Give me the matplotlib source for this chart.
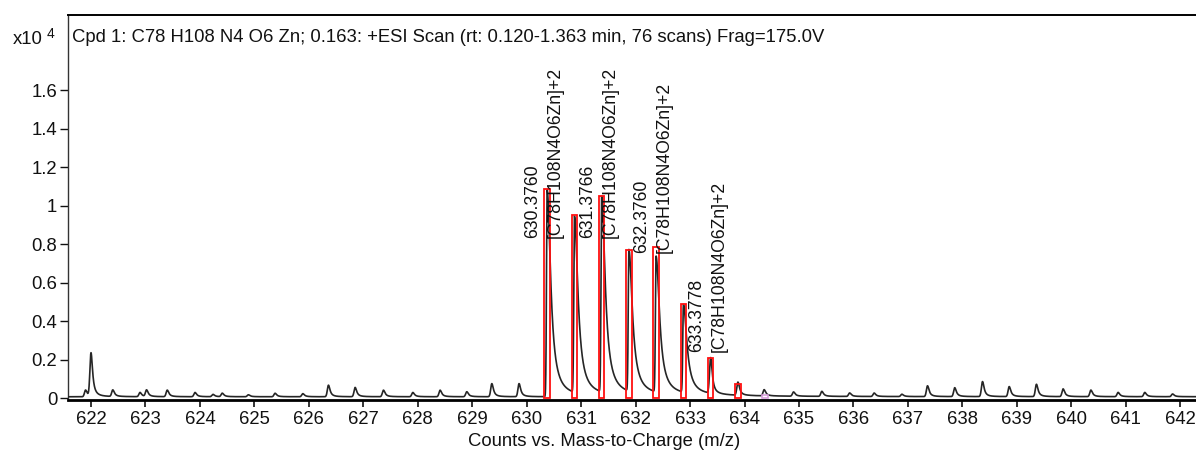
import numpy as np
import matplotlib
matplotlib.use("Agg")
import matplotlib.pyplot as plt
from matplotlib.patches import Rectangle

# scan peaks (m/z, counts in units of 1e4)
peak_mz = [621.90, 622.00, 622.40, 622.90, 623.02, 623.40, 623.91, 624.24, 624.41,
           624.89, 625.38, 625.89, 626.36, 626.85, 627.37, 627.91, 628.41, 628.90,
           629.36, 629.86,
           630.376, 630.877, 631.377, 631.877, 632.376, 632.878, 633.378, 633.879,
           634.36, 634.90, 635.42, 635.93, 636.38, 636.89, 637.36, 637.86, 638.37,
           638.86, 639.36, 639.85, 640.36, 640.86, 641.35, 641.86]
peak_counts = [0.035, 0.225, 0.034, 0.022, 0.034, 0.034, 0.022, 0.012, 0.018,
               0.010, 0.018, 0.016, 0.060, 0.048, 0.034, 0.022, 0.034, 0.026,
               0.068, 0.068,
               1.075, 0.915, 1.015, 0.735, 0.705, 0.455, 0.185, 0.068,
               0.032, 0.022, 0.026, 0.018, 0.018, 0.012, 0.056, 0.046, 0.078,
               0.052, 0.064, 0.040, 0.034, 0.022, 0.022, 0.014]

# predicted isotope pattern of [C78H108N4O6Zn]+2
iso_mz = [630.376, 630.876, 631.377, 631.877, 632.376, 632.877, 633.378, 633.878]
iso_counts = [1.086, 0.952, 1.052, 0.769, 0.786, 0.491, 0.208, 0.073]

# unmatched predicted peak
extra_mz = [634.38]
extra_counts = [0.015]

# annotated peaks
label_mz = [630.3760, 631.3766, 632.3760, 633.3778]
formula = "[C78H108N4O6Zn]+2"

title = ("Cpd 1: C78 H108 N4 O6 Zn; 0.163: +ESI Scan (rt: 0.120-1.363 min, "
         "76 scans) Frag=175.0V")
xlabel = "Counts vs. Mass-to-Charge (m/z)"

fam = ["Liberation Sans", "DejaVu Sans"]
fs = 13.3

# profile trace built from the peak list: steep front, tail to the high-mass side
mz = np.linspace(621.4, 642.5, 12000)
trace = np.full_like(mz, 0.008)
for c, h in zip(peak_mz, peak_counts):
    d = mz - c
    if h > 0.3:
        front, tail = 0.012, 0.075
    else:
        front, tail = 0.02, 0.035
    shape = np.where(d < 0, np.exp(-0.5 * (d / front) ** 2), 1.0 / (1.0 + (d / tail) ** 2))
    trace += h * shape

W, H = 1196, 453
fig = plt.figure(figsize=(W / 100, H / 100), dpi=100)
ax = fig.add_axes([67.7 / W, 1 - 400 / H, 1 - 67.7 / W, 385 / H])

ax.plot(mz, trace, color="#262626", lw=1.2, zorder=3)

for c, h in zip(iso_mz, iso_counts):
    ax.add_patch(Rectangle((c - 0.05, 0), 0.1, h, facecolor="none",
                           edgecolor="#ff1010", lw=1.3, zorder=4))
for c, h in zip(extra_mz, extra_counts):
    ax.add_patch(Rectangle((c - 0.05, 0), 0.1, h, facecolor="none",
                           edgecolor="#d9a0dc", lw=1.2, zorder=4))

label_bottom = [0.833, 0.833, 0.755, 0.241]
for m, yb in zip(label_mz, label_bottom):
    ax.text(m - 0.26, yb, f"{m:.4f}", rotation=90, ha="center", va="bottom",
            fontsize=12.7, family=fam, color="#111111", zorder=5)
    ax.text(m + 0.15, yb, formula, rotation=90, ha="center", va="bottom",
            fontsize=12.7, family=fam, color="#111111", zorder=5)

ax.set_xlim(621.572, 642.29)
ax.set_ylim(-0.0088, 1.991)
ax.set_xticks(np.arange(622, 643))
yt = np.round(np.arange(0, 1.61, 0.2), 1)
ax.set_yticks(yt)
ax.set_yticklabels([f"{v:g}" for v in yt])

for lab in ax.get_xticklabels() + ax.get_yticklabels():
    lab.set_family(fam)
    lab.set_fontsize(fs)
    lab.set_color("#111111")

ax.tick_params(axis="x", direction="out", length=5, width=1.2, pad=3, colors="#111111")
ax.tick_params(axis="y", direction="out", length=5.5, width=1.0, pad=2, colors="#111111")

ax.spines["right"].set_visible(False)
ax.spines["left"].set_linewidth(1.0)
ax.spines["left"].set_color("#333333")
ax.spines["top"].set_linewidth(1.4)
ax.spines["bottom"].set_linewidth(2.0)

fig.text(72 / W, 1 - 37 / H, title, ha="left", va="center", fontsize=fs,
         family=fam, color="#111111")
fig.text(13 / W, 1 - 39 / H, "x10", ha="left", va="center", fontsize=fs,
         family=fam, color="#111111")
fig.text(47 / W, 1 - 34 / H, "4", ha="left", va="center", fontsize=10,
         family=fam, color="#111111")
fig.text(604 / W, 1 - 441 / H, xlabel, ha="center", va="center", fontsize=fs,
         family=fam, color="#111111")

fig.savefig("out.png", dpi=100, facecolor="white")
